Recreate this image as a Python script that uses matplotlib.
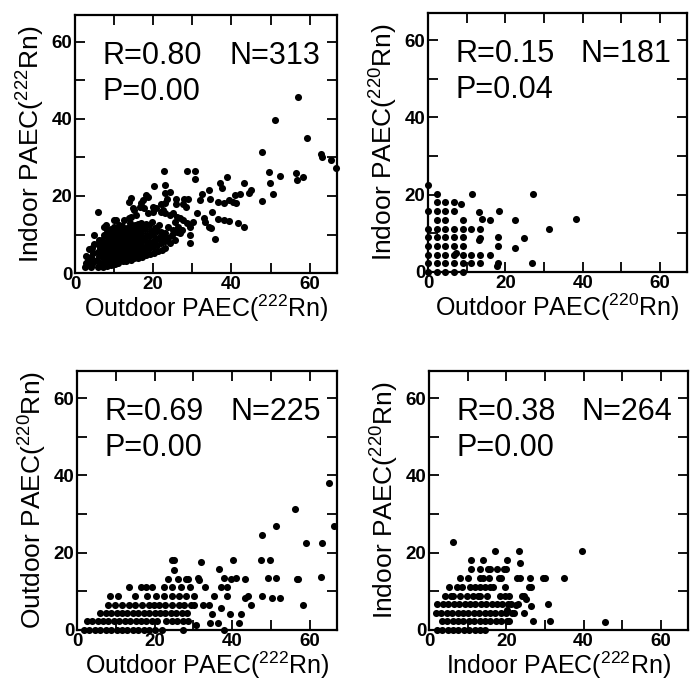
import matplotlib
matplotlib.use("Agg")
import matplotlib.pyplot as plt
import numpy as np

plt.rcParams["font.family"] = ["Liberation Sans", "DejaVu Sans"]
plt.rcParams["mathtext.fontset"] = "custom"
plt.rcParams["mathtext.rm"] = "Liberation Sans"
plt.rcParams["mathtext.default"] = "regular"

# --- panel a: outdoor vs indoor 222Rn PAEC ---
out222_in222 = [
    (57.1, 45.6), (51.2, 39.7), (59.3, 35.0), (63.0, 30.8), (63.2, 30.2), (65.4, 29.3),
    (66.8, 27.2), (47.8, 31.5), (49.5, 26.3), (52.4, 25.3), (56.4, 25.9), (56.8, 24.2),
    (58.4, 24.9), (49.9, 23.3), (50.6, 20.4), (47.8, 18.7), (43.3, 23.5), (45.0, 21.6),
    (44.4, 20.7), (42.2, 20.4), (41.0, 20.3), (40.3, 18.5), (41.1, 18.1), (38.8, 25.0),
    (37.0, 23.5), (37.5, 22.2), (34.2, 21.6), (32.5, 20.4), (31.9, 19.0), (34.5, 19.2),
    (36.6, 18.5), (38.1, 18.1), (39.5, 19.0), (31.3, 15.5), (35.1, 15.9), (32.9, 14.2),
    (33.3, 13.3), (34.2, 12.0), (34.9, 11.6), (36.6, 13.9), (38.1, 13.8), (39.4, 13.6),
    (41.8, 13.1), (43.3, 12.0), (35.7, 8.8), (29.4, 7.7), (29.4, 9.9), (28.6, 26.5),
    (30.8, 26.5), (30.6, 24.4), (22.8, 26.6), (20.3, 22.7), (22.9, 22.9), (23.1, 20.7),
    (24.2, 21.1), (23.6, 19.2), (25.8, 19.2), (25.8, 17.9), (28.0, 19.2), (28.8, 19.2),
    (27.6, 17.9), (28.4, 17.2), (22.1, 17.9), (22.1, 15.9), (22.9, 15.5), (24.2, 15.1),
    (25.1, 15.5), (26.0, 14.6), (26.8, 14.2), (27.7, 13.8), (28.6, 12.9), (29.4, 12.0),
    (30.3, 13.3), (25.5, 13.3), (26.4, 12.0), (26.0, 10.7), (26.8, 10.3), (27.3, 11.2),
    (25.1, 11.2), (23.8, 12.0), (24.7, 9.9), (23.8, 9.0), (22.9, 10.3), (22.1, 10.7),
    (22.5, 8.6), (24.2, 7.7), (25.5, 8.6), (18.7, 19.8), (17.4, 19.0), (16.9, 18.1),
    (14.3, 19.4), (13.8, 18.5), (20.0, 17.2), (20.8, 16.8), (22.6, 16.4), (22.9, 18.1),
    (18.2, 20.3), (16.5, 17.2), (15.2, 16.4), (15.6, 15.1), (17.7, 16.8), (18.6, 15.6),
    (20.0, 15.8), (14.8, 16.8), (14.3, 14.6), (13.9, 14.2), (6.0, 15.8), (4.9, 9.9),
    (3.5, 6.2), (7.3, 12.0), (8.3, 11.2), (9.9, 13.8), (12.5, 13.8), (7.8, 12.5),
    (10.4, 13.8), (11.3, 12.5),
    (2.6, 1.5), (2.9, 2.5), (3.2, 3.4), (2.8, 4.4),
    (4.1, 1.6), (4.4, 2.4), (4.7, 3.2), (4.2, 4.2), (4.6, 5.2), (4.3, 6.5), (4.8, 7.5),
    (5.9, 1.5), (6.1, 2.5), (5.7, 3.5), (6.2, 4.5), (5.8, 5.5), (6.3, 6.5), (5.9, 7.5), (6.2, 8.5),
    (7.1, 1.6), (6.9, 2.6), (7.3, 3.6), (7.0, 4.6), (7.4, 5.6), (6.8, 6.6), (7.2, 7.6), (7.0, 8.6),
    (7.3, 9.8), (8.2, 1.8), (7.9, 2.8), (8.3, 3.8), (8.0, 4.8), (8.4, 5.8), (7.8, 6.8), (8.1, 7.8),
    (8.4, 9.0), (8.0, 10.2), (9.1, 2.0), (8.8, 3.0), (9.2, 4.0), (9.0, 5.0), (9.3, 6.0), (8.9, 7.0),
    (9.2, 8.0), (9.0, 9.2), (9.3, 10.5), (9.1, 11.5), (10.2, 2.4), (9.9, 3.4), (10.3, 4.4),
    (10.0, 5.4), (10.4, 6.4), (9.8, 7.4), (10.2, 8.4), (10.0, 9.5), (10.3, 10.8), (10.1, 12.0),
    (11.1, 2.6), (10.9, 3.6), (11.3, 4.6), (11.0, 5.6), (11.4, 6.6), (10.8, 7.6), (11.2, 8.6),
    (11.0, 9.6), (11.3, 10.6), (11.1, 11.8), (12.2, 3.0), (11.9, 4.0), (12.3, 5.0), (12.0, 6.0),
    (12.4, 7.0), (11.8, 8.0), (12.2, 9.0), (12.0, 10.0), (12.3, 11.0), (12.1, 12.2),
    (13.1, 3.2), (12.9, 4.2), (13.3, 5.2), (13.0, 6.2), (13.4, 7.2), (12.8, 8.2), (13.2, 9.2),
    (13.0, 10.4), (13.3, 11.6), (14.2, 3.5), (13.9, 4.5), (14.3, 5.5), (14.0, 6.5), (14.4, 7.5),
    (13.8, 8.5), (14.2, 9.5), (14.0, 10.5), (14.3, 11.5), (14.0, 12.9), (15.1, 3.8), (14.9, 5.0),
    (15.3, 6.0), (15.0, 7.0), (15.4, 8.0), (14.8, 9.0), (15.2, 10.0), (15.0, 11.2), (15.3, 12.4),
    (16.2, 4.0), (15.9, 5.2), (16.3, 6.4), (16.0, 7.6), (16.4, 8.8), (15.8, 10.0), (16.2, 11.2),
    (16.0, 12.6), (17.1, 4.2), (16.9, 5.5), (17.3, 6.8), (17.0, 8.0), (17.4, 9.2), (16.8, 10.5),
    (17.2, 11.8), (17.0, 13.0), (18.2, 4.6), (17.9, 6.0), (18.3, 7.3), (18.0, 8.6), (18.4, 10.0),
    (17.8, 11.4), (18.2, 12.8), (19.1, 5.0), (18.9, 6.5), (19.3, 8.0), (19.0, 9.5), (19.4, 11.0),
    (18.8, 12.5), (20.2, 5.2), (19.9, 6.8), (20.3, 8.4), (20.0, 10.0), (20.4, 11.6), (19.8, 13.2),
    (21.1, 5.6), (20.9, 7.2), (21.3, 9.0), (21.0, 10.8), (21.4, 12.4), (22.2, 6.0), (21.9, 7.8),
    (22.3, 9.6), (23.1, 6.5), (22.9, 8.2),
]

# --- panel b: outdoor vs indoor 220Rn PAEC (values come in steps) ---
out220_in220 = [
    (0, 0), (2.2, 0), (4.5, 0), (6.7, 0), (9.0, 0),
    (0, 2.2), (2.2, 2.2), (4.5, 2.2), (6.7, 2.2), (9.0, 2.2), (11.2, 2.2), (13.5, 2.2),
    (17.8, 1.6), (18.0, 2.2), (27.0, 2.2),
    (0, 4.5), (2.2, 4.5), (4.5, 4.5), (6.7, 4.5), (7.3, 4.9), (9.0, 4.5), (11.2, 4.5),
    (13.5, 4.5), (16.0, 4.5),
    (0, 6.7), (2.2, 6.7), (4.5, 6.7), (6.7, 6.7), (9.0, 6.7), (18.0, 6.7), (22.5, 6.3),
    (0, 9.0), (2.2, 9.0), (4.5, 9.0), (6.7, 9.0), (9.0, 9.0), (13.2, 8.3), (13.5, 8.8),
    (18.0, 9.0), (24.8, 8.8),
    (0, 11.2), (2.2, 11.2), (4.5, 11.2), (6.7, 11.2), (9.0, 11.2), (11.2, 11.2), (13.5, 11.2),
    (31.4, 11.2),
    (2.2, 13.5), (4.5, 13.5), (9.0, 13.5), (13.9, 13.8), (16.0, 13.5), (22.6, 13.5), (38.3, 13.6),
    (0, 15.8), (2.2, 15.8), (4.5, 15.8), (6.7, 15.8), (13.3, 15.6), (18.3, 15.8),
    (2.2, 18.0), (4.5, 18.0), (6.7, 18.0), (8.5, 17.6),
    (2.2, 20.3), (11.5, 20.3), (27.1, 20.3),
    (0, 22.5),
]

# --- panel c: outdoor 222Rn vs outdoor 220Rn PAEC ---
out222_out220 = [
    (1.8, 0), (3.2, 0), (4.6, 0), (6.0, 0), (7.4, 0), (8.8, 0), (10.2, 0), (11.6, 0),
    (13.0, 0), (14.4, 0), (15.8, 0), (17.2, 0), (18.6, 0), (20.0, 0), (22.0, 0), (27.2, 0),
    (38.0, 0),
    (2.5, 2.2), (3.9, 2.2), (5.3, 2.2), (6.7, 2.2), (8.1, 2.2), (9.5, 2.2), (10.9, 2.2),
    (12.3, 2.2), (13.7, 2.2), (15.1, 2.2), (16.5, 2.2), (17.9, 2.2), (19.3, 2.2), (20.7, 2.2),
    (23.0, 2.2), (24.4, 2.2), (25.8, 2.2), (27.2, 2.2), (28.6, 2.2), (30.6, 1.3), (34.4, 1.7),
    (36.3, 1.7), (41.7, 1.7),
    (6.0, 4.3), (7.4, 4.3), (8.8, 4.3), (10.2, 4.3), (11.6, 4.3), (13.0, 4.3), (14.4, 4.3),
    (15.8, 4.3), (17.2, 4.3), (18.6, 4.3), (20.0, 4.3), (21.4, 4.3), (22.8, 4.3), (24.2, 4.3),
    (25.6, 4.3), (27.0, 4.3), (28.4, 4.3), (34.7, 4.1), (39.5, 4.1), (42.3, 4.1),
    (8.1, 6.5), (9.8, 6.5), (11.5, 6.5), (13.3, 6.5), (15.0, 6.5), (16.8, 6.5), (18.5, 6.5),
    (19.8, 6.5), (21.1, 6.5), (22.8, 6.5), (24.6, 6.5), (26.3, 6.5), (27.6, 6.5), (29.4, 6.5),
    (30.2, 6.5), (32.4, 6.5), (34.1, 6.5), (37.1, 5.8), (44.8, 6.5), (58.2, 6.5),
    (8.4, 8.7), (10.5, 8.7), (14.9, 8.7), (18.1, 8.7), (20.3, 8.7), (22.4, 8.7), (24.6, 8.7),
    (26.3, 8.7), (28.1, 8.7), (30.1, 8.7), (35.4, 8.7), (38.7, 8.7), (43.2, 8.2), (44.1, 8.7),
    (47.7, 8.8), (50.3, 8.2), (52.3, 8.2),
    (13.5, 11.0), (16.4, 11.0), (17.7, 11.0), (19.4, 11.0), (22.4, 11.0), (24.6, 11.0),
    (26.8, 11.0), (29.2, 11.1), (33.1, 11.2), (37.0, 11.2), (38.7, 11.2),
    (23.5, 13.2), (25.9, 13.2), (28.1, 13.2), (28.5, 13.3), (31.1, 13.4), (31.5, 13.0),
    (37.8, 13.4), (39.7, 13.2), (40.9, 13.4), (43.2, 13.2), (49.3, 13.4), (51.2, 13.4),
    (56.6, 13.3), (57.0, 13.3), (62.9, 13.6),
    (25.0, 15.6), (36.5, 15.9),
    (24.6, 18.0), (25.1, 18.0), (31.9, 17.6), (40.3, 18.0), (47.4, 18.0), (49.7, 18.0),
    (47.7, 24.7), (51.2, 27.0), (56.2, 31.3), (65.0, 37.9), (66.3, 26.8), (59.0, 22.5),
    (63.1, 22.5),
]

# --- panel d: indoor 222Rn vs indoor 220Rn PAEC ---
in222_in220 = [
    (2.0, 0), (3.4, 0), (4.8, 0), (6.2, 0), (7.6, 0), (9.0, 0), (10.4, 0), (11.8, 0),
    (13.2, 0), (14.6, 0),
    (3.3, 2.2), (4.7, 2.2), (6.1, 2.2), (7.5, 2.2), (8.9, 2.2), (10.3, 2.2), (11.7, 2.2),
    (13.1, 2.2), (14.5, 2.2), (15.9, 2.2), (17.3, 2.2), (18.7, 2.2), (20.1, 2.2), (20.6, 2.2),
    (26.9, 2.2), (31.2, 2.2), (45.5, 2.1),
    (1.8, 4.4), (3.2, 4.4), (4.6, 4.4), (6.0, 4.4), (7.4, 4.4), (8.8, 4.4), (10.2, 4.4),
    (11.6, 4.4), (13.0, 4.4), (14.4, 4.4), (15.8, 4.4), (17.2, 4.4), (18.6, 4.4), (20.0, 4.4),
    (21.4, 4.4), (21.9, 4.4), (24.7, 4.3), (20.2, 5.3),
    (2.2, 6.7), (3.6, 6.7), (5.0, 6.7), (6.4, 6.7), (7.8, 6.7), (9.2, 6.7), (10.6, 6.7),
    (12.0, 6.7), (13.4, 6.7), (14.8, 6.7), (16.2, 6.7), (17.6, 6.7), (19.0, 6.7), (20.4, 6.7),
    (21.1, 6.7), (22.6, 6.5), (23.1, 6.7), (26.4, 6.1), (30.7, 6.7),
    (4.2, 8.9), (5.6, 8.9), (6.3, 8.9), (8.0, 8.9), (9.8, 8.9), (11.5, 8.9), (12.6, 8.9),
    (13.2, 8.9), (14.9, 8.9), (18.4, 8.9), (19.7, 8.9), (20.6, 8.9), (24.1, 8.7), (25.2, 8.0),
    (24.5, 8.7),
    (5.3, 11.2), (7.2, 11.2), (8.5, 11.2), (10.6, 11.2), (12.0, 11.2), (13.2, 11.2),
    (14.5, 11.2), (15.7, 11.2), (16.5, 11.2), (19.6, 11.2), (25.8, 11.2), (26.4, 11.2),
    (7.9, 13.4), (10.2, 13.4), (13.2, 13.4), (14.1, 13.4), (15.4, 13.4), (18.0, 13.4),
    (18.7, 13.4), (22.8, 13.4), (23.6, 13.4), (26.1, 13.4), (29.4, 13.4), (29.9, 13.4),
    (34.9, 13.4),
    (10.8, 15.8), (13.1, 15.8), (15.2, 15.8), (15.9, 15.8), (17.6, 15.8), (19.3, 15.8),
    (20.0, 15.8),
    (10.8, 18.0), (13.9, 18.0), (20.3, 18.2), (23.5, 17.4),
    (17.0, 20.5), (23.2, 20.5), (39.7, 20.5),
    (6.3, 22.7),
]

panels = [
    # data, xlabel, ylabel, R, N, P, axes rect
    (out222_in222, r"Outdoor PAEC($^{222}$Rn)", r"Indoor PAEC($^{222}$Rn)",
     "R=0.80", "N=313", "P=0.00", [0.1087, 0.5991, 0.3797, 0.3789]),
    (out220_in220, r"Outdoor PAEC($^{220}$Rn)", r"Indoor PAEC($^{220}$Rn)",
     "R=0.15", "N=181", "P=0.04", [0.6203, 0.6006, 0.3754, 0.3803]),
    (out222_out220, r"Outdoor PAEC($^{222}$Rn)", r"Outdoor PAEC($^{220}$Rn)",
     "R=0.69", "N=225", "P=0.00", [0.1116, 0.0749, 0.3768, 0.3803]),
    (in222_in220, r"Indoor PAEC($^{222}$Rn)", r"Indoor PAEC($^{220}$Rn)",
     "R=0.38", "N=264", "P=0.00", [0.6217, 0.0749, 0.3754, 0.3803]),
]

fig = plt.figure(figsize=(6.9, 6.81), dpi=100)

for data, xlabel, ylabel, r_txt, n_txt, p_txt, rect in panels:
    ax = fig.add_axes(rect)
    pts = np.array(data)
    ax.scatter(pts[:, 0], pts[:, 1], s=26, c="black", linewidths=0, clip_on=False, zorder=3)
    ax.set_xlim(0, 67)
    ax.set_ylim(0, 67)
    ax.set_xticks([0, 20, 40, 60])
    ax.set_yticks([0, 20, 40, 60])
    ax.set_xticks([10, 30, 50], minor=True)
    ax.set_yticks([10, 30, 50], minor=True)
    ax.tick_params(which="both", direction="in", top=True, right=True,
                   length=7, width=1.3, labelsize=13.5)
    ax.tick_params(axis="x", pad=2.5)
    ax.tick_params(axis="y", pad=2)
    for lbl in ax.get_xticklabels() + ax.get_yticklabels():
        lbl.set_fontweight("bold")
    for sp in ax.spines.values():
        sp.set_linewidth(1.6)
    ax.set_xlabel(xlabel, fontsize=18, labelpad=-0.5)
    ax.set_ylabel(ylabel, fontsize=19, labelpad=3)
    ax.text(0.105, 0.81, r_txt, transform=ax.transAxes, fontsize=22, va="baseline")
    ax.text(0.59, 0.81, n_txt, transform=ax.transAxes, fontsize=22, va="baseline")
    ax.text(0.105, 0.67, p_txt, transform=ax.transAxes, fontsize=22, va="baseline")

fig.savefig("out.png", dpi=100)
